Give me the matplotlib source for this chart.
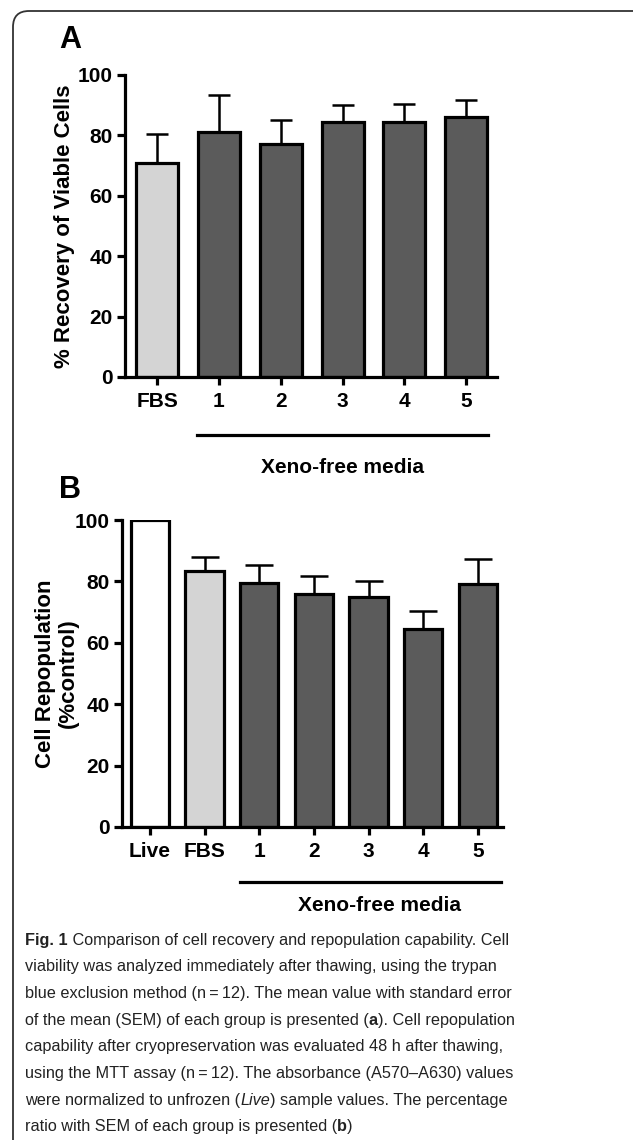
import numpy as np
import matplotlib
matplotlib.use('Agg')
import matplotlib.pyplot as plt
import matplotlib.transforms as mtransforms
from matplotlib.patches import FancyBboxPatch

plt.rcParams['font.family'] = ['Liberation Sans', 'DejaVu Sans']
plt.rcParams['font.weight'] = 'bold'
plt.rcParams['axes.labelweight'] = 'bold'

# panel A data
cats_a = ['FBS', '1', '2', '3', '4', '5']
recovery = [71, 81, 77, 84.5, 84.5, 86]
recovery_sem = [9.5, 12.5, 8, 5.7, 6, 5.7]
colors_a = ['#d4d4d4'] + ['#5b5b5b'] * 5

# panel B data
cats_b = ['Live', 'FBS', '1', '2', '3', '4', '5']
repop = [100, 83.4, 79.5, 76, 75, 64.5, 79]
repop_sem = [0, 4.5, 5.8, 5.6, 5.2, 6, 8.2]
colors_b = ['#ffffff', '#d4d4d4'] + ['#5b5b5b'] * 5

yticks = [0, 20, 40, 60, 80, 100]

fig = plt.figure(figsize=(6.33, 11.4), dpi=100)
px = mtransforms.IdentityTransform()

# rounded frame around the figure (runs off right/bottom)
frame = FancyBboxPatch((13, -40), 700, 1169, boxstyle='round,pad=0,rounding_size=16',
                       transform=px, fill=False, lw=1.3, ec='#333333')
fig.add_artist(frame)


def style_ax(ax, cats, ticklen=6):
    for s in ['top', 'right']:
        ax.spines[s].set_visible(False)
    for s in ['left', 'bottom']:
        ax.spines[s].set_linewidth(2.3)
    ax.set_ylim(0, 100)
    ax.set_yticks(yticks)
    ax.set_xticks(range(len(cats)))
    ax.set_xticklabels(cats)
    ax.tick_params(width=2.3, length=ticklen, labelsize=15, pad=3)
    ax.tick_params(axis='x', pad=5)


# ---- panel A
axA = fig.add_axes([125 / 633, 1 - 377 / 1140, 372 / 633, 302 / 1140])
xa = np.arange(len(cats_a))
axA.bar(xa, recovery, width=0.68, color=colors_a, edgecolor='black', lw=2.3, zorder=2)
axA.errorbar(xa, recovery, yerr=[np.zeros(len(xa)), recovery_sem], fmt='none',
             ecolor='black', elinewidth=1.8, capsize=8, capthick=1.8, zorder=1)
axA.set_xlim(-0.52, 5.5)
style_ax(axA, cats_a)
axA.set_ylabel('% Recovery of Viable Cells', fontsize=16, va='center')
axA.yaxis.set_label_coords((65 - 125) / 372, 0.5)
tr = mtransforms.blended_transform_factory(axA.transData, axA.transAxes)
axA.plot([1 - 0.36, 5 + 0.36], [-0.192, -0.192], color='black', lw=2.3,
         transform=tr, clip_on=False)
axA.text(3, -0.30, 'Xeno-free media', transform=tr, ha='center', va='center', fontsize=15)
fig.text(70 / 633, 1 - 40 / 1140, 'A', fontsize=22, ha='center', va='center')

# ---- panel B
axB = fig.add_axes([122 / 633, 1 - 827 / 1140, 381 / 633, 307 / 1140])
xb = np.arange(len(cats_b))
axB.bar(xb, repop, width=0.7, color=colors_b, edgecolor='black', lw=2.3, zorder=2)
axB.errorbar(xb[1:], repop[1:], yerr=[np.zeros(len(xb) - 1), repop_sem[1:]], fmt='none',
             ecolor='black', elinewidth=1.8, capsize=10, capthick=1.8, zorder=1)
axB.set_xlim(-0.51, 6.46)
style_ax(axB, cats_b)
axB.set_ylabel('Cell Repopulation\n(%control)', fontsize=16, linespacing=1.15, va='center')
axB.yaxis.set_label_coords((57 - 122) / 381, 0.5)
tr = mtransforms.blended_transform_factory(axB.transData, axB.transAxes)
axB.plot([2 - 0.35, 6 + 0.43], [-0.18, -0.18], color='black', lw=2.3,
         transform=tr, clip_on=False)
axB.text(4.2, -0.255, 'Xeno-free media', transform=tr, ha='center', va='center', fontsize=15)
fig.text(70 / 633, 1 - 490 / 1140, 'B', fontsize=22, ha='center', va='center')

# ---- caption
caption = [
    [('Fig. 1', 'b'), (' Comparison of cell recovery and repopulation capability. Cell', 'n')],
    [('viability was analyzed immediately after thawing, using the trypan', 'n')],
    [('blue exclusion method (n\u2009=\u200912). The mean value with standard error', 'n')],
    [('of the mean (SEM) of each group is presented (', 'n'), ('a', 'b'), ('). Cell repopulation', 'n')],
    [('capability after cryopreservation was evaluated 48 h after thawing,', 'n')],
    [('using the MTT assay (n\u2009=\u200912). The absorbance (A570\u2013A630) values', 'n')],
    [('were normalized to unfrozen (', 'n'), ('Live', 'i'), (') sample values. The percentage', 'n')],
    [('ratio with SEM of each group is presented (', 'n'), ('b', 'b'), (')', 'n')],
]

renderer = fig.canvas.get_renderer()
y0 = 1140 - 940
for i, runs in enumerate(caption):
    x = 25
    y = y0 - i * 26.7
    for txt, st in runs:
        t = fig.text(x, y, txt, transform=px, fontsize=11.7, va='center', ha='left',
                     fontweight='bold' if st == 'b' else 'normal',
                     fontstyle='italic' if st == 'i' else 'normal',
                     color='#222222')
        x = t.get_window_extent(renderer).x1

fig.savefig('out.png', dpi=100)
